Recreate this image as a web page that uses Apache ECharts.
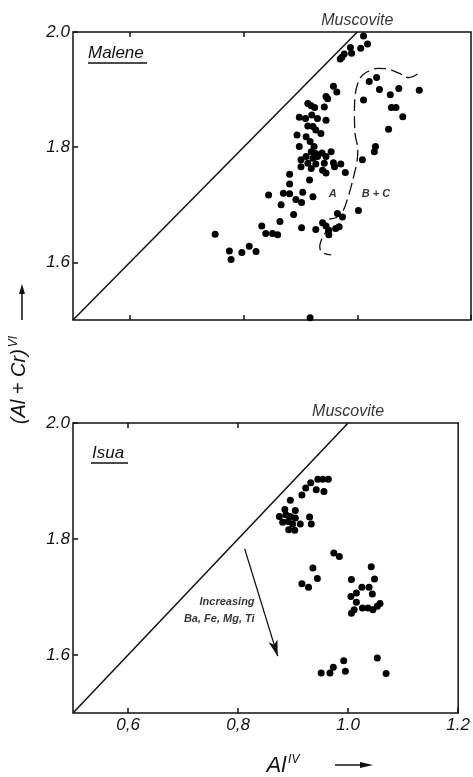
<!DOCTYPE html>
<html>
<head>
<meta charset="utf-8">
<script src="https://cdn.jsdelivr.net/npm/echarts/dist/echarts.min.js"></script>
<style>
  html, body { margin: 0; padding: 0; background: #fff; }
  #chart { width: 473px; height: 777px; }
</style>
</head>
<body>
<div id="chart"></div>
<script>
// axis ticks and labels
var xTicks = [0.6, 0.8, 1.0, 1.2];
var xTickLabels = ['0,6', '0,8', '1.0', '1.2'];
var yTicks = [1.6, 1.8, 2.0];
var yTickLabels = ['1.6', '1.8', '2.0'];

// muscovite reference line (Al^IV, (Al+Cr)^VI)
var muscoviteLine = [[0.5, 1.5], [1.0, 2.0]];

// Malene, field A
var maleneA = [
  [1.011, 1.993], [1.006, 1.972], [1.018, 1.979], [0.988, 1.973], [0.990, 1.963],
  [0.977, 1.962], [0.973, 1.956], [0.970, 1.953],
  [0.958, 1.906], [0.964, 1.896], [0.945, 1.888], [0.948, 1.884], [0.913, 1.876],
  [0.919, 1.872], [0.925, 1.869], [0.942, 1.870], [0.898, 1.852], [0.909, 1.850],
  [0.920, 1.856], [0.930, 1.850], [0.945, 1.847], [0.913, 1.837], [0.922, 1.836],
  [0.927, 1.830], [0.936, 1.824], [0.894, 1.821], [0.910, 1.818], [0.917, 1.810],
  [0.924, 1.801], [0.898, 1.801], [0.919, 1.792], [0.927, 1.789], [0.910, 1.784],
  [0.938, 1.790], [0.954, 1.792], [0.922, 1.781], [0.930, 1.784], [0.945, 1.784],
  [0.901, 1.778], [0.913, 1.772], [0.927, 1.771], [0.942, 1.772], [0.958, 1.773],
  [0.971, 1.771], [0.901, 1.766], [0.919, 1.763], [0.939, 1.760], [0.945, 1.755],
  [0.960, 1.766], [0.979, 1.756], [0.881, 1.753], [0.881, 1.736], [0.916, 1.743],
  [0.844, 1.717], [0.870, 1.720], [0.881, 1.719], [0.904, 1.722], [0.922, 1.714],
  [0.892, 1.709], [0.902, 1.704], [0.866, 1.700], [0.888, 1.683], [0.864, 1.671],
  [0.902, 1.660], [0.832, 1.663], [0.839, 1.650], [0.851, 1.650], [0.860, 1.648],
  [0.927, 1.657], [0.939, 1.669], [0.945, 1.663], [0.950, 1.656], [0.950, 1.648],
  [0.965, 1.685], [0.974, 1.679], [0.968, 1.662], [0.962, 1.659],
  [0.750, 1.649], [0.775, 1.620], [0.778, 1.605], [0.797, 1.617], [0.810, 1.628],
  [0.822, 1.619], [0.917, 1.504]
];

// Malene, fields B + C
var maleneBC = [
  [1.034, 1.921], [1.021, 1.914], [1.039, 1.900], [1.011, 1.882], [1.058, 1.891],
  [1.073, 1.902], [1.109, 1.899], [1.060, 1.869], [1.068, 1.869], [1.080, 1.853],
  [1.055, 1.831], [1.032, 1.801], [1.030, 1.792], [1.009, 1.778], [1.002, 1.690]
];

// dashed boundary between A and B + C
var boundary = [
  [1.106, 1.927], [1.091, 1.921], [1.074, 1.928], [1.053, 1.936], [1.036, 1.937],
  [1.024, 1.934], [1.009, 1.925], [1.001, 1.911], [0.996, 1.888], [0.995, 1.859],
  [0.996, 1.824], [1.001, 1.795], [0.999, 1.772], [0.995, 1.755], [0.989, 1.731],
  [0.982, 1.708], [0.974, 1.688], [0.963, 1.678], [0.948, 1.674], [0.945, 1.667],
  [0.945, 1.656], [0.938, 1.642], [0.934, 1.627], [0.939, 1.617], [0.954, 1.613]
];

// Isua
var isua = [
  [0.945, 1.903], [0.954, 1.903], [0.964, 1.903], [0.932, 1.897], [0.923, 1.888],
  [0.916, 1.876], [0.942, 1.885], [0.956, 1.882], [0.895, 1.867], [0.885, 1.851],
  [0.904, 1.849], [0.875, 1.839], [0.887, 1.842], [0.895, 1.839], [0.904, 1.836],
  [0.881, 1.829], [0.891, 1.830], [0.899, 1.826], [0.913, 1.826], [0.892, 1.816],
  [0.903, 1.815], [0.930, 1.838], [0.933, 1.826],
  [0.974, 1.776], [0.984, 1.770], [0.936, 1.750], [0.944, 1.732], [0.916, 1.723],
  [0.928, 1.717],
  [1.042, 1.752], [1.048, 1.731], [1.006, 1.730], [1.025, 1.717], [1.038, 1.717],
  [1.015, 1.707], [1.044, 1.705], [1.005, 1.701], [1.015, 1.691], [1.026, 1.681],
  [1.036, 1.681], [1.045, 1.678], [1.053, 1.684], [1.058, 1.689], [1.011, 1.678],
  [1.006, 1.672],
  [0.951, 1.569], [0.967, 1.569], [0.973, 1.579], [0.992, 1.590], [0.995, 1.572],
  [1.053, 1.595], [1.069, 1.568]
];

// trend arrow in Isua panel
var trendArrow = [[0.812, 1.783], [0.872, 1.598]];

// in-plot notes
var topNotes = [[0.957, 1.718, 'A'], [1.033, 1.718, 'B + C']];
var bottomNotes = [[0.830, 1.676, 'Increasing\nBa, Fe, Mg, Ti']];

var font = 'Liberation Sans';
var ink = '#111';

function xAxisFor(gridIndex, showLabels) {
  return {
    type: 'value', gridIndex: gridIndex, min: 0.5, max: 1.2,
    axisLine: { show: false },
    splitLine: { show: false },
    axisTick: { inside: true, length: 5, customValues: xTicks, lineStyle: { color: ink, width: 1.5 } },
    axisLabel: {
      show: showLabels, customValues: xTicks, margin: 4,
      fontFamily: font, fontStyle: 'italic', fontSize: 17, color: ink,
      formatter: function (v) { return xTickLabels[xTicks.indexOf(+v.toFixed(1))]; }
    }
  };
}
function topAxisFor(gridIndex) {
  return {
    type: 'value', gridIndex: gridIndex, min: 0.5, max: 1.2, position: 'top',
    axisLine: { show: false }, splitLine: { show: false }, axisLabel: { show: false },
    axisTick: { inside: true, length: 5, customValues: [0.6, 0.8], lineStyle: { color: ink, width: 1.5 } }
  };
}
function yAxisFor(gridIndex) {
  return {
    type: 'value', gridIndex: gridIndex, min: 1.5, max: 2.0,
    axisLine: { show: false },
    splitLine: { show: false },
    axisTick: { inside: true, length: 5, customValues: yTicks, lineStyle: { color: ink, width: 1.5 } },
    axisLabel: {
      customValues: yTicks, margin: 3,
      fontFamily: font, fontStyle: 'italic', fontSize: 17, color: ink,
      formatter: function (v) { return yTickLabels[yTicks.indexOf(+v.toFixed(1))]; }
    }
  };
}
function dots(name, data, xi, yi) {
  return {
    name: name, type: 'scatter', xAxisIndex: xi, yAxisIndex: yi, data: data,
    symbolSize: 7, itemStyle: { color: '#000', opacity: 1 }, z: 3
  };
}
function notes(data, xi, yi, label) {
  return {
    type: 'scatter', xAxisIndex: xi, yAxisIndex: yi, data: data, symbolSize: 0, silent: true,
    label: Object.assign({
      show: true, color: '#000', fontFamily: font, fontWeight: 'bold', fontSize: 11,
      formatter: function (p) { return p.value[2]; }
    }, label)
  };
}
function muscovite(xi, yi) {
  return [
    { type: 'line', xAxisIndex: xi, yAxisIndex: yi, data: muscoviteLine, symbol: 'none',
      lineStyle: { color: ink, width: 1.5 }, silent: true },
    { type: 'scatter', xAxisIndex: xi, yAxisIndex: yi, data: [muscoviteLine[1]], symbolSize: 0,
      silent: true,
      label: { show: true, position: 'top', distance: 3, formatter: 'Muscovite', color: '#000',
        fontFamily: font, fontStyle: 'italic', fontSize: 16 } }
  ];
}

var chart = echarts.init(document.getElementById('chart'));
chart.setOption({
  animation: false,
  backgroundColor: '#fff',
  grid: [
    { left: 73, top: 32, width: 398, height: 288, show: true, borderColor: ink, borderWidth: 1.5 },
    { left: 73, top: 423, width: 398, height: 290, show: true, borderColor: ink, borderWidth: 1.5 }
  ],
  xAxis: [xAxisFor(0, false), xAxisFor(1, true), topAxisFor(0), topAxisFor(1)],
  yAxis: [yAxisFor(0), yAxisFor(1)],
  series: [].concat(
    muscovite(0, 0),
    muscovite(1, 1),
    [
      dots('Malene A', maleneA, 0, 0),
      dots('Malene B + C', maleneBC, 0, 0),
      { type: 'line', xAxisIndex: 0, yAxisIndex: 0, data: boundary, symbol: 'none', smooth: 0.4,
        lineStyle: { color: ink, width: 1.3, type: [12, 5] }, silent: true },
      notes(topNotes, 0, 0, { position: 'inside', fontStyle: 'italic' }),
      dots('Isua', isua, 1, 1),
      notes(bottomNotes, 1, 1, { position: 'left', distance: 0, align: 'right',
        fontStyle: 'italic', lineHeight: 17 }),
      { type: 'line', xAxisIndex: 1, yAxisIndex: 1, data: [], silent: true,
        markLine: {
          silent: true, symbol: ['none', 'arrow'], symbolSize: [7, 16], label: { show: false },
          lineStyle: { color: ink, width: 1.3, type: 'solid' },
          data: [[{ coord: trendArrow[0] }, { coord: trendArrow[1] }]]
        } }
    ]
  ),
  graphic: [
    { type: 'text', left: 88, top: 45, style: { text: 'Malene', fontFamily: font, fontStyle: 'italic', fontSize: 17, fill: ink } },
    { type: 'line', shape: { x1: 88, y1: 63, x2: 147, y2: 63 }, style: { stroke: ink, lineWidth: 1.5 } },
    { type: 'text', left: 92, top: 445, style: { text: 'Isua', fontFamily: font, fontStyle: 'italic', fontSize: 17, fill: ink } },
    { type: 'line', shape: { x1: 91, y1: 463, x2: 128, y2: 463 }, style: { stroke: ink, lineWidth: 1.5 } },
    { type: 'text', x: 19, y: 380, rotation: Math.PI / 2,
      style: { text: '(Al + Cr){sup|VI}', fontFamily: font, fontStyle: 'italic', fontSize: 20, fill: ink,
        align: 'center', verticalAlign: 'middle',
        rich: { sup: { fontSize: 12, fontStyle: 'italic', fontFamily: font, verticalAlign: 'top', padding: [0, 0, 10, 2] } } } },
    { type: 'line', shape: { x1: 22, y1: 320, x2: 22, y2: 292 }, style: { stroke: ink, lineWidth: 1.5 } },
    { type: 'polygon', shape: { points: [[22, 284], [19, 294], [25, 294]] }, style: { fill: ink } },
    { type: 'text', x: 283, y: 766,
      style: { text: 'Al{sup|IV}', fontFamily: font, fontStyle: 'italic', fontSize: 22, fill: ink,
        align: 'center', verticalAlign: 'middle',
        rich: { sup: { fontSize: 12, fontStyle: 'italic', fontFamily: font, verticalAlign: 'top', padding: [0, 0, 12, 2] } } } },
    { type: 'line', shape: { x1: 335, y1: 765, x2: 362, y2: 765 }, style: { stroke: ink, lineWidth: 1.5 } },
    { type: 'polygon', shape: { points: [[373, 765], [360, 762], [360, 768]] }, style: { fill: ink } }
  ]
});
</script>
</body>
</html>
